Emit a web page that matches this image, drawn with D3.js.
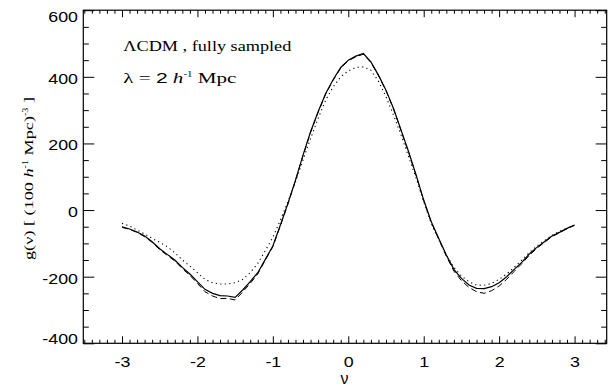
<!DOCTYPE html>
<html>
<head>
<meta charset="utf-8">
<script src="https://cdn.jsdelivr.net/npm/d3@7"></script>
<style>
  html, body { margin: 0; padding: 0; background: #fff; }
  svg { display: block; }
  .sans { font-family: "Liberation Sans", Arial, Helvetica, sans-serif; }
  .serif { font-family: "Liberation Serif", "Times New Roman", Times, serif; }
</style>
</head>
<body>
<svg id="chart" width="613" height="387"></svg>
<script>
// ---- data ----
const nu = [-3.0,-2.9,-2.8,-2.7,-2.6,-2.5,-2.4,-2.3,-2.2,-2.1,-2.0,-1.9,-1.8,-1.7,-1.6,-1.5,-1.4,-1.3,-1.2,-1.1,
            -1.0,-0.9,-0.8,-0.7,-0.6,-0.5,-0.4,-0.3,-0.2,-0.1,0.0,0.1,0.2,0.3,0.4,0.5,0.6,0.7,0.8,0.9,
            1.0,1.1,1.2,1.3,1.4,1.5,1.6,1.7,1.8,1.9,2.0,2.1,2.2,2.3,2.4,2.5,2.6,2.7,2.8,2.9,3.0];
const gSolid = [-50,-57,-66,-78,-95,-116,-133,-150,-172,-192,-215,-238,-250,-257,-258,-262,-240,-215,-188,-148,
                -108,-45,20,90,165,235,295,350,392,428,450,462,470,445,405,360,305,240,175,105,
                30,-35,-85,-135,-178,-205,-225,-235,-236,-230,-218,-200,-178,-157,-132,-112,-95,-78,-67,-55,-45];
const gDashed = [-52,-58,-67,-80,-97,-119,-136,-153,-176,-196,-220,-245,-258,-266,-265,-270,-246,-220,-192,-150,
                 -110,-47,18,88,163,233,293,348,390,426,448,460,468,443,404,358,303,238,173,103,
                 28,-37,-88,-139,-183,-212,-232,-245,-250,-242,-228,-208,-184,-161,-136,-115,-97,-80,-68,-56,-46];
const gDotted = [-40,-48,-60,-72,-85,-97,-110,-128,-150,-168,-188,-208,-218,-222,-222,-218,-208,-188,-160,-122,
                 -82,-30,25,85,150,215,275,330,370,400,418,428,430,420,387,340,285,225,160,95,
                 25,-40,-90,-135,-172,-198,-215,-225,-226,-220,-208,-192,-172,-150,-128,-108,-92,-76,-64,-54,-45];
const xMajorTicks = [-3,-2,-1,0,1,2,3];
const yMajorTicks = [-400,-200,0,200,400,600];
const xLabel = "ν";
const annotation1 = "ΛCDM , fully sampled";

// ---- layout ----
const svg = d3.select("#chart");
const L = 83.3, R = 606.7, T = 10.2, B = 343.3;
const x = d3.scaleLinear().domain([-3.513, 3.426]).range([L, R]);
const y = d3.scaleLinear().domain([-400, 600]).range([B, T]);
const xMinor = d3.range(-35, 35).map(i => i / 10).filter(v => !xMajorTicks.some(t => Math.abs(t - v) < 1e-9));
const yMinor = d3.range(-400, 601, 50).filter(v => !yMajorTicks.includes(v));
const stretch = 1.15;
const fmt = d => String(d);   // plain hyphen-minus, as in the reference

function styleAxis(g) {
  g.select(".domain").remove();
  g.selectAll("line").attr("stroke", "#000").attr("stroke-width", 1);
}

// bottom axis
svg.append("g").attr("transform", `translate(0,${B})`)
  .call(d3.axisBottom(x).tickValues(xMinor).tickSize(-3.5).tickFormat(""))
  .call(styleAxis);
const gb = svg.append("g").attr("transform", `translate(0,${B})`)
  .call(d3.axisBottom(x).tickValues(xMajorTicks).tickSize(-7).tickFormat(fmt))
  .call(styleAxis);
gb.attr("font-family", null).attr("font-size", null);
gb.selectAll("text")
  .attr("y", 0).attr("dy", 0)
  .attr("class", "sans")
  .attr("transform", `translate(0,23.3) scale(${stretch},1)`)
  .style("font-size", "15.5px").attr("fill", "#000");

// top axis
svg.append("g").attr("transform", `translate(0,${T})`)
  .call(d3.axisTop(x).tickValues(xMinor).tickSize(-3.5).tickFormat(""))
  .call(styleAxis);
svg.append("g").attr("transform", `translate(0,${T})`)
  .call(d3.axisTop(x).tickValues(xMajorTicks).tickSize(-7).tickFormat(""))
  .call(styleAxis);

// left axis
svg.append("g").attr("transform", `translate(${L},0)`)
  .call(d3.axisLeft(y).tickValues(yMinor).tickSize(-5.5).tickFormat(""))
  .call(styleAxis);
const gl = svg.append("g").attr("transform", `translate(${L},0)`)
  .call(d3.axisLeft(y).tickValues(yMajorTicks).tickSize(-11).tickFormat(fmt))
  .call(styleAxis);
gl.attr("font-family", null).attr("font-size", null);
gl.selectAll("text")
  .attr("x", 0).attr("dy", 0)
  .attr("class", "sans")
  .attr("transform", d => {
    // keep the end labels inside the frame height, as in the reference
    const c = Math.max(T + 5.2, Math.min(B - 5.2, y(d) + 0.8));
    return `translate(-5.3,${c - y(d) + 5.6}) scale(${stretch},1)`;
  })
  .attr("text-anchor", "end")
  .style("font-size", "15.5px").attr("fill", "#000");

// right axis
svg.append("g").attr("transform", `translate(${R},0)`)
  .call(d3.axisRight(y).tickValues(yMinor).tickSize(-5.5).tickFormat(""))
  .call(styleAxis);
svg.append("g").attr("transform", `translate(${R},0)`)
  .call(d3.axisRight(y).tickValues(yMajorTicks).tickSize(-11).tickFormat(""))
  .call(styleAxis);

// frame
svg.append("rect").attr("x", L).attr("y", T).attr("width", R - L).attr("height", B - T)
  .attr("fill", "none").attr("stroke", "#000").attr("stroke-width", 1.2);

// curves
const line = vals => d3.line().x((d, i) => x(nu[i])).y(d => y(d))(vals);
svg.append("path").attr("d", line(gDotted)).attr("fill", "none")
  .attr("stroke", "#000").attr("stroke-width", 1.1).attr("stroke-dasharray", "1.2,3.3");
svg.append("path").attr("d", line(gDashed)).attr("fill", "none")
  .attr("stroke", "#000").attr("stroke-width", 1).attr("stroke-dasharray", "6,3.5");
svg.append("path").attr("d", line(gSolid)).attr("fill", "none")
  .attr("stroke", "#000").attr("stroke-width", 1.2);

// axis titles
svg.append("text").attr("x", (L + R) / 2 - 0.5).attr("y", 383.5)
  .attr("text-anchor", "middle").attr("class", "sans")
  .style("font-size", "16px").text(xLabel);

const yl = svg.append("text")
  .attr("transform", "translate(33,178.5) rotate(-90)")
  .attr("text-anchor", "middle").attr("class", "serif")
  .style("font-size", "13.5px")
  .attr("textLength", 163).attr("lengthAdjust", "spacingAndGlyphs");
yl.append("tspan").text("g(ν) [ (100 ");
yl.append("tspan").style("font-style", "italic").text("h");
yl.append("tspan").style("font-size", "7.5px").attr("dy", -5.5).text("-1");
yl.append("tspan").attr("dy", 5.5).text(" Mpc)");
yl.append("tspan").style("font-size", "7.5px").attr("dy", -5.5).text("-3");
yl.append("tspan").attr("dy", 5.5).text(" ]");

// annotations
svg.append("text").attr("x", 123.3).attr("y", 50.7)
  .attr("class", "serif").style("font-size", "14.5px")
  .attr("textLength", 168).attr("lengthAdjust", "spacingAndGlyphs")
  .text(annotation1);

const a2 = svg.append("text").attr("x", 123.3).attr("y", 83.3)
  .attr("class", "serif").style("font-size", "14.5px")
  .attr("textLength", 113).attr("lengthAdjust", "spacingAndGlyphs");
a2.append("tspan").text("λ =  ");
a2.append("tspan").attr("class", "sans").text("2");
a2.append("tspan").text(" ");
a2.append("tspan").style("font-style", "italic").text("h");
a2.append("tspan").style("font-size", "7.5px").attr("dy", -6).text("-1");
a2.append("tspan").attr("dy", 6).text(" Mpc");
</script>
</body>
</html>
